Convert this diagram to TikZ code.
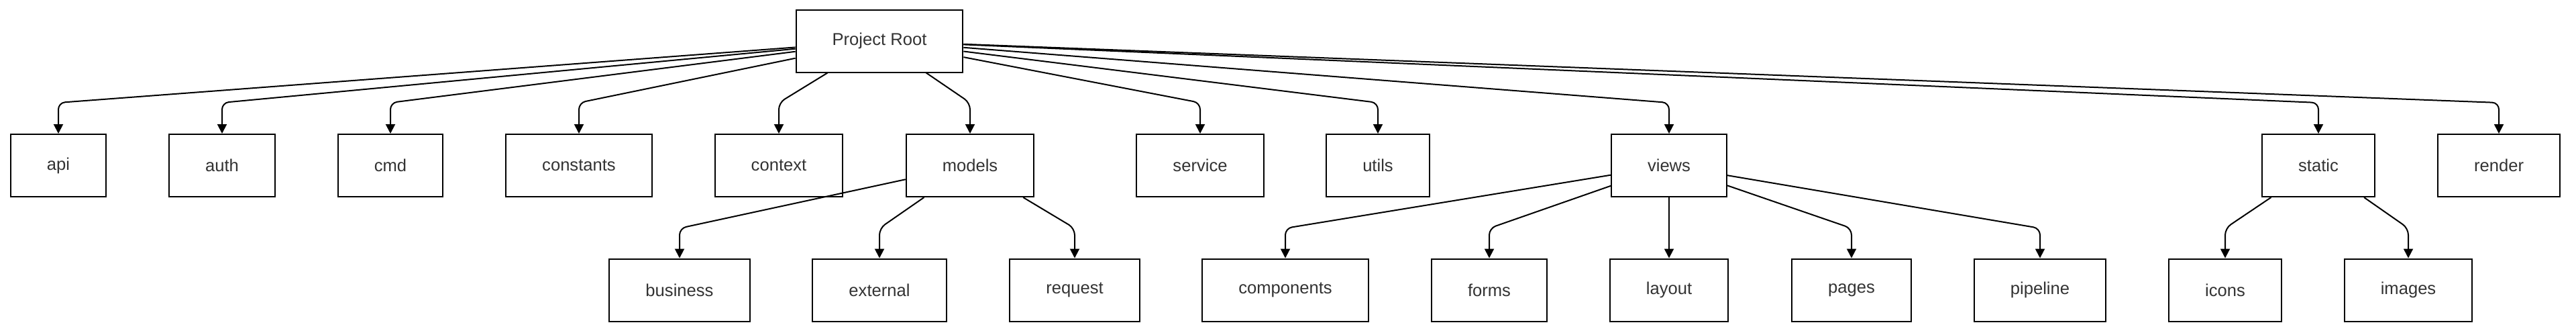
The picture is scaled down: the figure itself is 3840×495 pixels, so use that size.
\documentclass[tikz,border=0pt]{standalone}
\usepackage{fontspec}
\setmainfont{Liberation Sans}
\usetikzlibrary{arrows.meta}

\definecolor{textgray}{HTML}{333333}

\begin{document}
\begin{tikzpicture}[x=0.5pt,y=-0.5pt,
    box/.style={draw=black, line width=1pt, fill=white, minimum height=46.5pt,
        inner xsep=27pt, text=textgray, font=\fontsize{12.8}{15}\selectfont},
    arr/.style={draw=black, line width=1pt, rounded corners=5pt,
        -{Triangle[length=7pt,width=7pt]}}]
        % Page frame
        \useasboundingbox (0,0) rectangle (3840,495);
        \coordinate (bendA) at (0,153);
        \coordinate (bendB) at (0,340);

        % Root
        \node[box] (root) at (1311,61) {Project Root};

        % First level
        \node[box] (api) at (87,246.5) {api};
        \node[box] (auth) at (331,246.5) {auth};
        \node[box] (cmd) at (582,246.5) {cmd};
        \node[box] (constants) at (863,246.5) {constants};
        \node[box] (context) at (1161,246.5) {context};
        \node[box] (models) at (1446,246.5) {models};
        \node[box] (service) at (1789,246.5) {service};
        \node[box] (utils) at (2054,246.5) {utils};
        \node[box] (views) at (2488,246.5) {views};
        \node[box] (static) at (3456,246.5) {static};
        \node[box] (render) at (3725,246.5) {render};

        % Second level
        \node[box] (business) at (1013,432) {business};
        \node[box] (external) at (1311,432) {external};
        \node[box] (request) at (1602,432) {request};
        \node[box] (components) at (1916,432) {components};
        \node[box] (forms) at (2220,432) {forms};
        \node[box] (layout) at (2488,432) {layout};
        \node[box] (pages) at (2760,432) {pages};
        \node[box] (pipeline) at (3041,432) {pipeline};
        \node[box] (icons) at (3317,432) {icons};
        \node[box] (images) at (3590,432) {images};

        % Root to first level
        \draw[arr] (root) -- (api |- bendA) -- (api);
        \draw[arr] (root) -- (auth |- bendA) -- (auth);
        \draw[arr] (root) -- (cmd |- bendA) -- (cmd);
        \draw[arr] (root) -- (constants |- bendA) -- (constants);
        \draw[arr] (root) -- (context |- bendA) -- (context);
        \draw[arr] (root) -- (models |- bendA) -- (models);
        \draw[arr] (root) -- (service |- bendA) -- (service);
        \draw[arr] (root) -- (utils |- bendA) -- (utils);
        \draw[arr] (root) -- (views |- bendA) -- (views);
        \draw[arr] (root) -- (static |- bendA) -- (static);
        \draw[arr] (root) -- (render |- bendA) -- (render);

        % models
        \draw[arr] (models) -- (business |- bendB) -- (business);
        \draw[arr] (models) -- (external |- bendB) -- (external);
        \draw[arr] (models) -- (request |- bendB) -- (request);

        % views
        \draw[arr] (views) -- (components |- bendB) -- (components);
        \draw[arr] (views) -- (forms |- bendB) -- (forms);
        \draw[arr] (views) -- (layout);
        \draw[arr] (views) -- (pages |- bendB) -- (pages);
        \draw[arr] (views) -- (pipeline |- bendB) -- (pipeline);

        % static
        \draw[arr] (static) -- (icons |- bendB) -- (icons);
        \draw[arr] (static) -- (images |- bendB) -- (images);
\end{tikzpicture}
\end{document}
